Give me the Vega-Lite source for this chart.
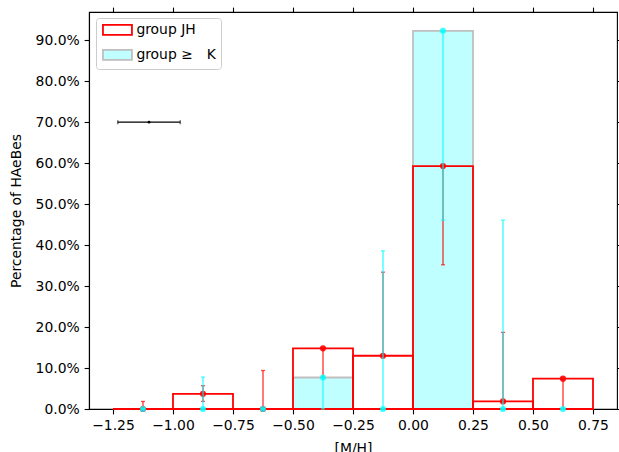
{
  "$schema": "https://vega.github.io/schema/vega-lite/v6.json",
  "width": 528,
  "height": 397,
  "autosize": {"type": "none"},
  "padding": {"left": 89, "top": 12, "right": 2, "bottom": 43},
  "background": "white",
  "config": {
    "font": "DejaVu Sans",
    "view": {"stroke": "black", "strokeWidth": 1.1},
    "axis": {
      "labelFont": "DejaVu Sans", "labelFontSize": 13.9, "labelColor": "#000000",
      "titleFont": "DejaVu Sans", "titleFontSize": 13.9, "titleFontWeight": "normal", "titleColor": "#000000",
      "tickColor": "#000000", "domainColor": "#000000", "tickWidth": 1.1, "domainWidth": 1.1,
      "tickSize": 4.9, "labelPadding": 4.9, "grid": false
    },
    "legend": {
      "orient": "none", "legendX": 7, "legendY": 6,
      "fillColor": "rgba(255,255,255,0.8)", "strokeColor": "#cccccc", "cornerRadius": 3,
      "padding": 5, "labelFont": "DejaVu Sans", "labelFontSize": 13.9, "labelColor": "#000000",
      "symbolType": "M-2.9,-1H2.9V1H-2.9Z", "symbolSize": 100, "symbolStrokeWidth": 1.8,
      "symbolOffset": 9.5, "labelOffset": 12, "rowPadding": 7
    }
  },
  "datasets": {
    "bars": [
      {"group": "group ≥  K", "x0": -1.25, "x1": -1.0, "v": 0},
      {"group": "group ≥  K", "x0": -1.0, "x1": -0.75, "v": 0},
      {"group": "group ≥  K", "x0": -0.75, "x1": -0.5, "v": 0},
      {"group": "group ≥  K", "x0": -0.5, "x1": -0.25, "v": 0.0769},
      {"group": "group ≥  K", "x0": -0.25, "x1": 0.0, "v": 0},
      {"group": "group ≥  K", "x0": 0.0, "x1": 0.25, "v": 0.923},
      {"group": "group ≥  K", "x0": 0.25, "x1": 0.5, "v": 0},
      {"group": "group ≥  K", "x0": 0.5, "x1": 0.75, "v": 0},
      {"group": "group JH", "x0": -1.25, "x1": -1.0, "v": 0},
      {"group": "group JH", "x0": -1.0, "x1": -0.75, "v": 0.037},
      {"group": "group JH", "x0": -0.75, "x1": -0.5, "v": 0},
      {"group": "group JH", "x0": -0.5, "x1": -0.25, "v": 0.148},
      {"group": "group JH", "x0": -0.25, "x1": 0.0, "v": 0.13},
      {"group": "group JH", "x0": 0.0, "x1": 0.25, "v": 0.593},
      {"group": "group JH", "x0": 0.25, "x1": 0.5, "v": 0.0185},
      {"group": "group JH", "x0": 0.5, "x1": 0.75, "v": 0.074}
    ],
    "err": [
      {"group": "group JH", "xc": -1.125, "y": 0, "lo": 0, "hi": 0.0185},
      {"group": "group JH", "xc": -0.875, "y": 0.037, "lo": 0.0185, "hi": 0.057},
      {"group": "group JH", "xc": -0.625, "y": 0, "lo": 0, "hi": 0.094},
      {"group": "group JH", "xc": -0.375, "y": 0.148, "lo": 0.077, "hi": 0.148},
      {"group": "group JH", "xc": -0.125, "y": 0.13, "lo": 0.13, "hi": 0.334},
      {"group": "group JH", "xc": 0.125, "y": 0.593, "lo": 0.352, "hi": 0.593},
      {"group": "group JH", "xc": 0.375, "y": 0.0185, "lo": 0.0185, "hi": 0.187},
      {"group": "group JH", "xc": 0.625, "y": 0.074, "lo": 0, "hi": 0.074},
      {"group": "group ≥  K", "xc": -1.125, "y": 0, "lo": 0, "hi": 0},
      {"group": "group ≥  K", "xc": -0.875, "y": 0, "lo": 0, "hi": 0.078},
      {"group": "group ≥  K", "xc": -0.625, "y": 0, "lo": 0, "hi": 0},
      {"group": "group ≥  K", "xc": -0.375, "y": 0.0769, "lo": 0, "hi": 0.0769},
      {"group": "group ≥  K", "xc": -0.125, "y": 0, "lo": 0, "hi": 0.386},
      {"group": "group ≥  K", "xc": 0.125, "y": 0.923, "lo": 0.461, "hi": 0.923},
      {"group": "group ≥  K", "xc": 0.375, "y": 0, "lo": 0, "hi": 0.461},
      {"group": "group ≥  K", "xc": 0.625, "y": 0, "lo": 0, "hi": 0}
    ],
    "res": [
      {"xc": -1.1, "lo": -1.23, "hi": -0.97, "y": 0.70}
    ]
  },
  "resolve": {"axis": {"x": "independent", "y": "independent"}},
  "layer": [
    {
      "data": {"name": "bars"},
      "mark": {"type": "rect", "strokeWidth": 1.8},
      "encoding": {
        "x": {"field": "x0", "type": "quantitative",
          "scale": {"domain": [-1.35, 0.85], "nice": false, "zero": false},
          "axis": {"values": [-1.25, -1.0, -0.75, -0.5, -0.25, 0, 0.25, 0.5, 0.75], "format": ".2f", "labelExpr": "replace(datum.label, '-', '−')", "title": "[M/H]", "titlePadding": 9}},
        "x2": {"field": "x1"},
        "y": {"field": "v", "type": "quantitative",
          "scale": {"domain": [0, 0.969], "nice": false, "zero": true},
          "axis": {"values": [0, 0.1, 0.2, 0.3, 0.4, 0.5, 0.6, 0.7, 0.8, 0.9], "format": ".1%", "title": "Percentage of HAeBes", "titlePadding": 12}},
        "y2": {"datum": 0},
        "fill": {"field": "group", "type": "nominal",
          "scale": {"domain": ["group JH", "group ≥  K"], "range": ["rgba(255,255,255,0)", "#bfffff"]},
          "legend": {"title": null, "labelExpr": "datum.label == 'group JH' ? 'group JH' : 'group ≥\u2003K'"}},
        "stroke": {"field": "group", "type": "nominal",
          "scale": {"domain": ["group JH", "group ≥  K"], "range": ["#ff0000", "#bfbfbf"]},
          "legend": {"title": null, "labelExpr": "datum.label == 'group JH' ? 'group JH' : 'group ≥\u2003K'"}}
      }
    },
    {
      "data": {"name": "err"},
      "transform": [{"filter": "datum.group == 'group JH'"}],
      "mark": {"type": "rule", "color": "#ff0000", "opacity": 0.7, "strokeWidth": 1.5},
      "encoding": {
        "x": {"field": "xc", "type": "quantitative", "axis": null},
        "y": {"field": "lo", "type": "quantitative", "axis": null},
        "y2": {"field": "hi"}
      }
    },
    {
      "data": {"name": "err"},
      "transform": [{"filter": "datum.group == 'group JH'"}, {"fold": ["lo", "hi"], "as": ["end", "ye"]}],
      "mark": {"type": "tick", "orient": "horizontal", "color": "#ff0000", "opacity": 0.7, "size": 4, "thickness": 1.3},
      "encoding": {
        "x": {"field": "xc", "type": "quantitative", "axis": null},
        "y": {"field": "ye", "type": "quantitative", "axis": null}
      }
    },
    {
      "data": {"name": "err"},
      "transform": [{"filter": "datum.group == 'group JH'"}],
      "mark": {"type": "circle", "color": "#ff0000", "opacity": 0.9, "size": 38},
      "encoding": {
        "x": {"field": "xc", "type": "quantitative", "axis": null},
        "y": {"field": "y", "type": "quantitative", "axis": null}
      }
    },
    {
      "data": {"name": "err"},
      "transform": [{"filter": "datum.group != 'group JH'"}],
      "mark": {"type": "rule", "color": "#00ffff", "opacity": 0.7, "strokeWidth": 1.5},
      "encoding": {
        "x": {"field": "xc", "type": "quantitative", "axis": null},
        "y": {"field": "lo", "type": "quantitative", "axis": null},
        "y2": {"field": "hi"}
      }
    },
    {
      "data": {"name": "err"},
      "transform": [{"filter": "datum.group != 'group JH'"}, {"fold": ["lo", "hi"], "as": ["end", "ye"]}],
      "mark": {"type": "tick", "orient": "horizontal", "color": "#00ffff", "opacity": 0.7, "size": 4, "thickness": 1.3},
      "encoding": {
        "x": {"field": "xc", "type": "quantitative", "axis": null},
        "y": {"field": "ye", "type": "quantitative", "axis": null}
      }
    },
    {
      "data": {"name": "err"},
      "transform": [{"filter": "datum.group != 'group JH'"}],
      "mark": {"type": "circle", "color": "#00ffff", "opacity": 0.8, "size": 36},
      "encoding": {
        "x": {"field": "xc", "type": "quantitative", "axis": null},
        "y": {"field": "y", "type": "quantitative", "axis": null}
      }
    },
    {
      "data": {"name": "res"},
      "mark": {"type": "rule", "color": "#000000", "strokeWidth": 1.2},
      "encoding": {
        "x": {"field": "lo", "type": "quantitative",
          "axis": {"orient": "top", "labels": false, "title": null, "domain": false, "values": [-1.25, -1.0, -0.75, -0.5, -0.25, 0, 0.25, 0.5, 0.75]}},
        "x2": {"field": "hi"},
        "y": {"field": "y", "type": "quantitative",
          "axis": {"orient": "right", "labels": false, "title": null, "domain": false, "values": [0, 0.1, 0.2, 0.3, 0.4, 0.5, 0.6, 0.7, 0.8, 0.9]}}
      }
    },
    {
      "data": {"name": "res"},
      "transform": [{"fold": ["lo", "hi"], "as": ["end", "xe"]}],
      "mark": {"type": "tick", "orient": "vertical", "color": "#000000", "size": 4, "thickness": 1.2},
      "encoding": {
        "x": {"field": "xe", "type": "quantitative", "axis": null},
        "y": {"field": "y", "type": "quantitative", "axis": null}
      }
    },
    {
      "data": {"name": "res"},
      "mark": {"type": "circle", "color": "#000000", "opacity": 1, "size": 8},
      "encoding": {
        "x": {"field": "xc", "type": "quantitative", "axis": null},
        "y": {"field": "y", "type": "quantitative", "axis": null}
      }
    }
  ]
}
